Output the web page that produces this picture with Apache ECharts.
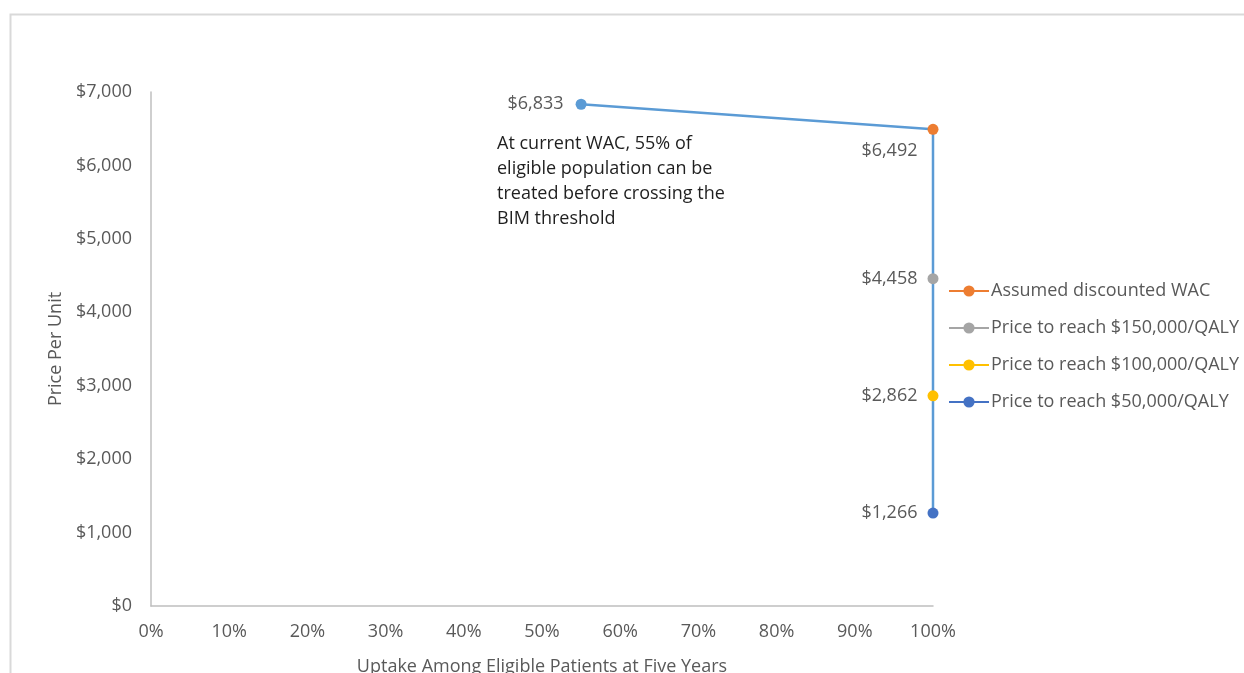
<!DOCTYPE html>
<html>
<head>
<meta charset="utf-8">
<script src="https://cdn.jsdelivr.net/npm/echarts@6/dist/echarts.min.js"></script>
<style>html,body{margin:0;padding:0;background:#fff;}#c{width:1244px;height:673px;}</style>
</head>
<body>
<div id="c"></div>
<script>
// ---- data ----
const lineUptake = [0.55, 1.0, 1.0];
const linePrice = [6833, 6492, 1266];
const markerNames = ['Assumed discounted WAC', 'Price to reach $150,000/QALY', 'Price to reach $100,000/QALY', 'Price to reach $50,000/QALY'];
const markerUptake = [1.0, 1.0, 1.0, 1.0];
const markerPrice = [6492, 4458, 2862, 1266];
const markerColors = ['#ED7D31', '#A5A5A5', '#FFC000', '#4472C4'];
const xTicks = [0, 0.1, 0.2, 0.3, 0.4, 0.5, 0.6, 0.7, 0.8, 0.9, 1.0];
const yTicks = [0, 1000, 2000, 3000, 4000, 5000, 6000, 7000];
const annotation = 'At current WAC, 55% of\neligible population can be\ntreated before crossing the\nBIM threshold';
const xTitle = 'Uptake Among Eligible Patients at Five Years';
const yTitle = 'Price Per Unit';

const FONT = '"Open Sans", sans-serif';
const FS = 18;
const money = v => '$' + Math.round(v).toLocaleString('en-US');

const chart = echarts.init(document.getElementById('c'));

const series = [{
  name: 'line',
  type: 'line',
  data: lineUptake.map((u, i) => ({
    value: [u, linePrice[i]],
    symbol: i === 0 ? 'circle' : 'none',
    label: i === 0 ? {show: true, position: 'left', distance: 12} : {show: false}
  })),
  lineStyle: {color: '#5B9BD5', width: 2.5},
  itemStyle: {color: '#5B9BD5'},
  symbolSize: 11,
  label: {formatter: p => money(p.value[1]), fontFamily: FONT, fontSize: FS, color: '#595959'},
  z: 2,
  silent: true
}];
markerNames.forEach((n, i) => {
  series.push({
    name: n,
    type: 'line',
    data: [[markerUptake[i], markerPrice[i]]],
    symbol: 'circle',
    symbolSize: 11,
    showSymbol: true,
    itemStyle: {color: markerColors[i]},
    lineStyle: {color: markerColors[i], width: 2.5},
    label: {
      show: true,
      position: 'left',
      distance: 10,
      offset: i === 0 ? [0, 22] : [0, 0],
      formatter: p => money(p.value[1]),
      fontFamily: FONT, fontSize: FS, color: '#595959'
    },
    z: 3
  });
});

chart.setOption({
  animation: false,
  backgroundColor: '#fff',
  grid: {left: 151, right: 311, top: 92, bottom: 67, outerBoundsMode: 'none', containLabel: false},
  xAxis: {
    type: 'value', min: 0, max: 1, interval: 0.1,
    name: xTitle, nameLocation: 'middle', nameGap: 52,
    nameTextStyle: {fontFamily: FONT, fontSize: FS, color: '#595959'},
    axisLine: {show: true, lineStyle: {color: '#BFBFBF', width: 1.5}},
    axisTick: {show: false},
    splitLine: {show: false},
    axisLabel: {margin: 17, fontFamily: FONT, fontSize: FS, color: '#595959',
      formatter: v => Math.round(v * 100) + '%'}
  },
  yAxis: {
    type: 'value', min: 0, max: 7000, interval: 1000,
    name: yTitle, nameLocation: 'middle', nameGap: 84,
    nameTextStyle: {fontFamily: FONT, fontSize: FS, color: '#595959'},
    axisLine: {show: true, lineStyle: {color: '#BFBFBF', width: 1.5}},
    axisTick: {show: false},
    splitLine: {show: false},
    axisLabel: {margin: 19, fontFamily: FONT, fontSize: FS, color: '#595959', formatter: v => money(v)}
  },
  legend: {
    data: markerNames,
    orient: 'vertical',
    left: 943, top: 276,
    itemWidth: 40, itemHeight: 14, itemGap: 17,
    textStyle: {fontFamily: FONT, fontSize: FS, lineHeight: 20, color: '#595959', padding: [0, 0, 0, -3]},
    selectedMode: false
  },
  graphic: [
    {type: 'rect', left: 8, top: 12, shape: {width: 1300, height: 720},
     style: {fill: 'none', stroke: '#D9D9D9', lineWidth: 2}, silent: true},
    {type: 'text', left: 497, top: 131,
     style: {text: annotation, font: FS + 'px ' + FONT, lineHeight: 25, fill: '#1F1F1F'}}
  ],
  series: series
});
</script>
</body>
</html>
